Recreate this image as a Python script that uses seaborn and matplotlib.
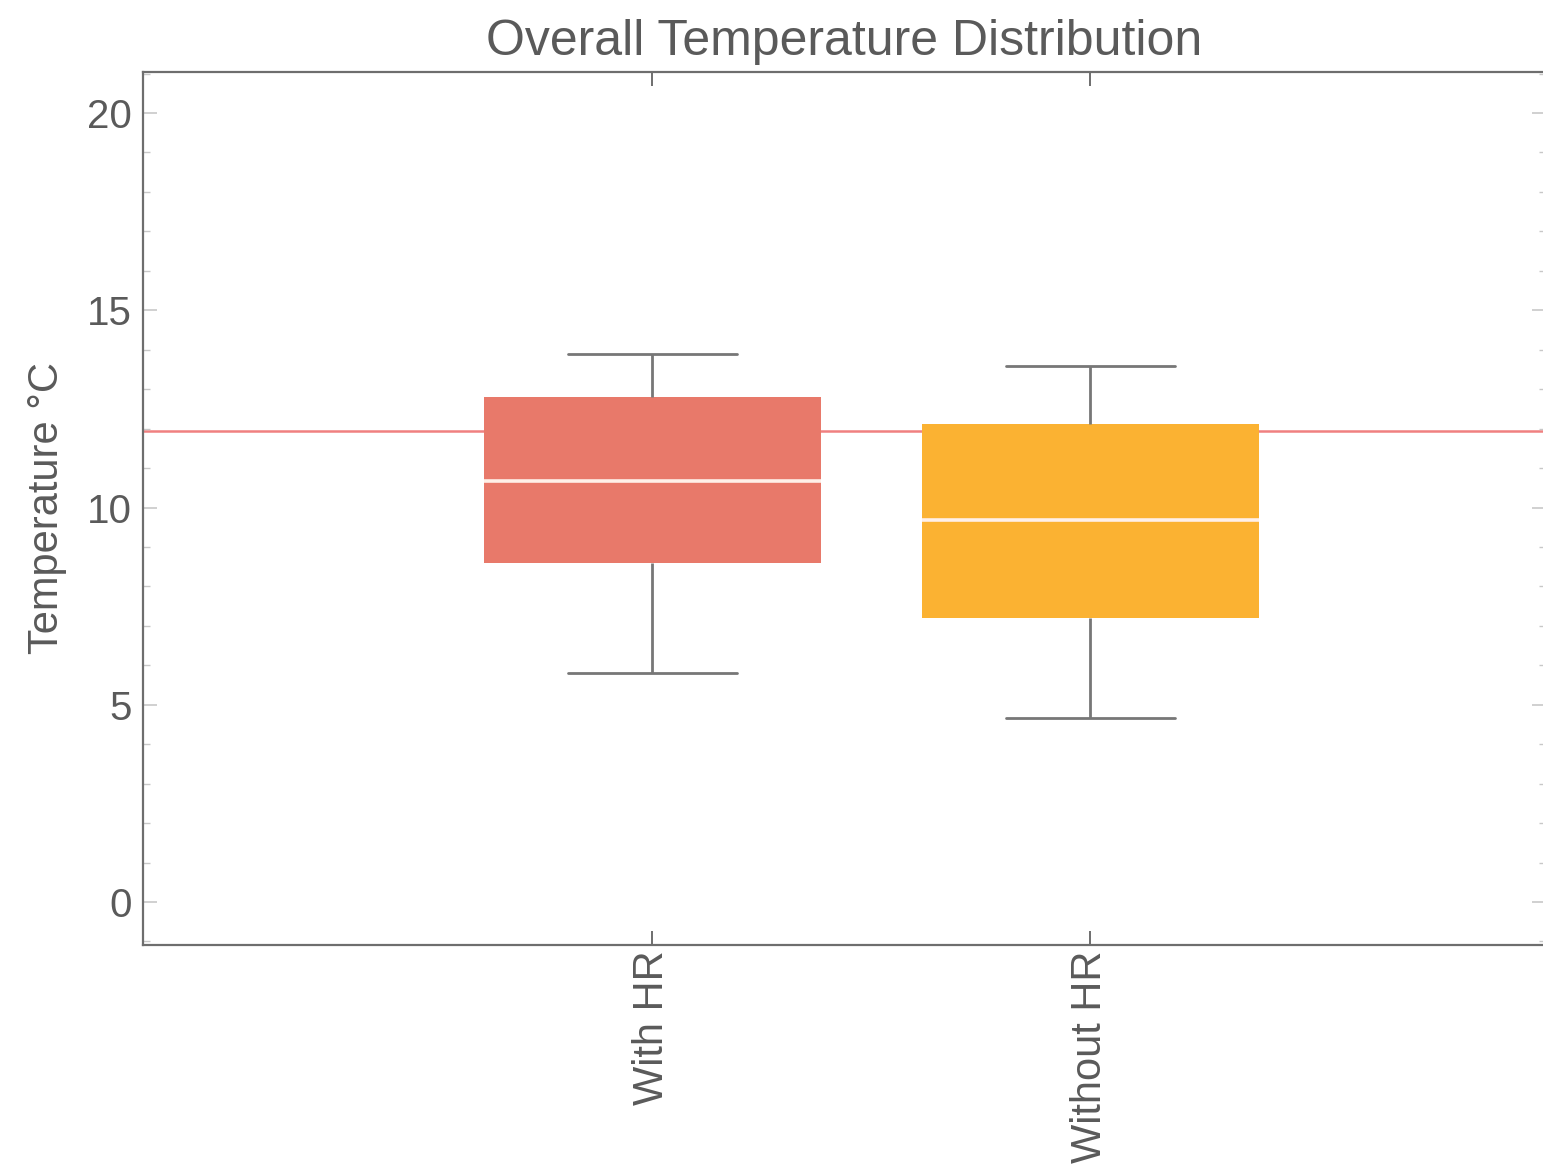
import numpy as np
import pandas as pd
import seaborn as sns
import matplotlib.pyplot as plt
from matplotlib.ticker import MultipleLocator

# five-number summaries (min, Q1, median, Q3, max)
groups = ["With HR", "Without HR"]
with_hr = [5.80, 8.59, 10.67, 12.80, 13.89]
without_hr = [4.66, 7.20, 9.68, 12.12, 13.59]
reference_temp = 11.94
colors = ["#E8796A", "#FBB232"]

df = pd.DataFrame({
    "group": [groups[0]] * len(with_hr) + [groups[1]] * len(without_hr),
    "temp": with_hr + without_hr,
})

sns.set_style("ticks")
plt.rcParams["font.family"] = ["Liberation Sans", "DejaVu Sans"]
text_col = "#5a5a5a"
axis_col = "#6e6e6e"

fig = plt.figure(figsize=(15.43, 11.66), dpi=100)
ax = fig.add_axes([0.0927, 0.1895, 0.9093, 0.7488])

ax.axhline(reference_temp, color="#F08080", lw=1.8, zorder=0)

sns.boxplot(data=df, x="group", y="temp", hue="group", palette=colors,
            saturation=1, width=0.77, whis=(0, 100), showfliers=False,
            linecolor="#777777", linewidth=2.0, legend=False, ax=ax,
            medianprops=dict(color="#FFF0E8", linewidth=2.6))

for p in ax.patches:
    p.set_edgecolor("none")

ax.set_xlim(-1.162, 2.04)
ax.set_ylim(-1.09, 21.04)
ax.yaxis.set_major_locator(MultipleLocator(5))
ax.yaxis.set_minor_locator(MultipleLocator(1))

ax.tick_params(axis="y", which="major", direction="in", length=10, width=1.2,
               color="#c8c8c8", labelsize=29, labelcolor=text_col, right=True, pad=8)
ax.tick_params(axis="y", which="minor", direction="in", length=5, width=1.0,
               color="#c8c8c8", right=True)
ax.tick_params(axis="x", direction="in", length=10, width=1.4, color=axis_col,
               labelsize=30, labelcolor=text_col, top=True, pad=4,
               labelrotation=90)
# left-side ticks darker than the faint right-side ones
for t in ax.yaxis.get_major_ticks() + ax.yaxis.get_minor_ticks():
    t.tick1line.set_color(axis_col)

for s in ax.spines.values():
    s.set_color(axis_col)
    s.set_linewidth(1.6)
ax.spines["right"].set_visible(False)

ax.set_xlabel("")
ax.set_ylabel("Temperature °C", fontsize=30, color=text_col, labelpad=14)
ax.set_title("Overall Temperature Distribution", fontsize=36, color=text_col, pad=12)

fig.savefig("out.png", dpi=100)
